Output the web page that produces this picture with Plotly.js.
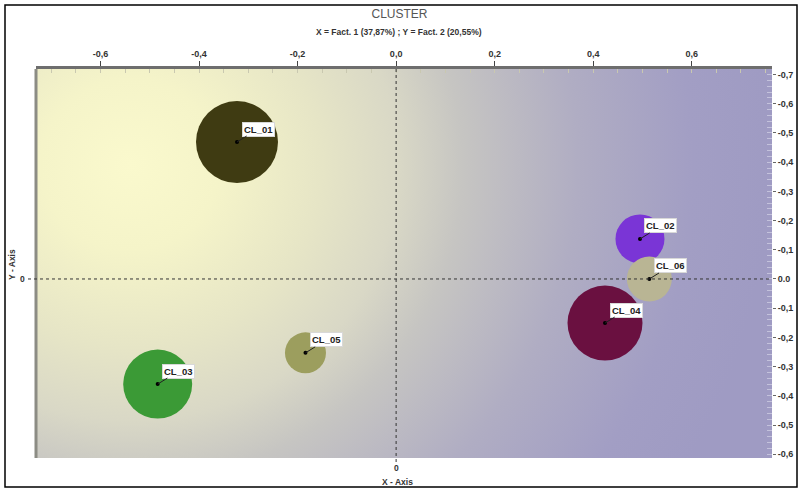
<!DOCTYPE html>
<html>
<head>
<meta charset="utf-8">
<script src="https://cdn.plot.ly/plotly-3.0.1.min.js"></script>
<style>
  html, body { margin: 0; padding: 0; background: #ffffff; }
  #chart { width: 799px; height: 490px; }
</style>
</head>
<body>
<div id="chart"></div>
<script>
// ---- data ----
const clusters = ['CL_01', 'CL_02', 'CL_03', 'CL_04', 'CL_05', 'CL_06'];
const fact1 = [-0.323, 0.495, -0.484, 0.424, -0.184, 0.514];
const fact2 = [0.469, 0.137, -0.360, -0.151, -0.253, 0.000];
const clusterSize = [82, 49, 69, 75, 41, 45];
const clusterColors = ['#3f3b12', '#7a35d6', '#3b9a36', '#6a1040', '#9c9e5e', '#b9b594'];

const xTickVals = [-0.6, -0.4, -0.2, 0.0, 0.2, 0.4, 0.6];
const xTickText = ['-0,6', '-0,4', '-0,2', '0,0', '0,2', '0,4', '0,6'];
const yTickVals = [0.7, 0.6, 0.5, 0.4, 0.3, 0.2, 0.1, 0.0, -0.1, -0.2, -0.3, -0.4, -0.5, -0.6];
const yTickText = ['-0,7', '-0,6', '-0,5', '-0,4', '-0,3', '-0,2', '-0,1', '0.0', '-0,1', '-0,2', '-0,3', '-0,4', '-0,5', '-0,6'];

// ---- gradient background image ----
function gradientImage() {
  const w = 736, h = 389;
  const c = document.createElement('canvas');
  c.width = w; c.height = h;
  const g = c.getContext('2d');
  g.fillStyle = '#9f9bc3';
  g.fillRect(0, 0, w, h);
  g.save();
  g.translate(94, 96);
  g.scale(1, 0.95);
  const grad = g.createRadialGradient(0, 0, 0, 0, 0, 640);
  grad.addColorStop(0.00, '#faf9cd');
  grad.addColorStop(0.14, '#f5f4c9');
  grad.addColorStop(0.30, '#e6e5c6');
  grad.addColorStop(0.42, '#d9d8c6');
  grad.addColorStop(0.52, '#c6c5c2');
  grad.addColorStop(0.70, '#b0adc3');
  grad.addColorStop(0.88, '#a29ec4');
  grad.addColorStop(1.00, '#9f9bc3');
  g.fillStyle = grad;
  g.fillRect(-200, -400, 1200, 1400);
  g.restore();
  return c.toDataURL('image/png');
}

const FONT = '"Liberation Sans Narrow", "Liberation Sans", Arial, sans-serif';

const bubbles = {
  type: 'scatter', mode: 'markers',
  x: fact1, y: fact2, text: clusters,
  marker: {
    size: clusterSize, sizemode: 'diameter', sizeref: 1,
    color: clusterColors, opacity: 1,
    line: { width: 0 }
  },
  hoverinfo: 'text', showlegend: false
};
const centers = {
  type: 'scatter', mode: 'markers',
  x: fact1, y: fact2,
  marker: { size: 4, color: '#000000' },
  hoverinfo: 'skip', showlegend: false
};
const minorHolder = {
  type: 'scatter', mode: 'markers', x: [], y: [],
  xaxis: 'x2', yaxis: 'y2', showlegend: false, hoverinfo: 'skip'
};

const labelAnn = clusters.map((c, i) => ({
  x: fact1[i], y: fact2[i], xref: 'x', yref: 'y',
  text: '<b>' + c + '</b>',
  showarrow: true, arrowhead: 0, arrowwidth: 1, arrowcolor: '#222',
  ax: 21, ay: -13,
  bgcolor: '#ffffff', bordercolor: '#d8d8d8', borderwidth: 1, borderpad: 1,
  font: { family: FONT, size: 9.5, color: '#222' }
}));

const PX = (p) => (p - 36) / 736;     // figure px -> paper x
const PY = (p) => (458 - p) / 389;    // figure px -> paper y

const tickFont = { family: FONT, size: 9, color: '#333', weight: 'bold' };

const layout = {
  width: 799, height: 490,
  margin: { l: 36, r: 27, t: 69, b: 32, pad: 0 },
  paper_bgcolor: '#ffffff',
  plot_bgcolor: 'rgba(0,0,0,0)',
  showlegend: false,
  title: {
    text: 'CLUSTER',
    font: { family: '"Liberation Sans", Arial, sans-serif', size: 12, color: '#555555' },
    x: 0.5, xanchor: 'center', y: 0.972, yanchor: 'middle'
  },
  xaxis: {
    range: [-0.731, 0.763], side: 'top',
    tickmode: 'array', tickvals: xTickVals, ticktext: xTickText,
    ticks: 'outside', ticklen: 5, tickwidth: 1, tickcolor: '#444',
    tickfont: tickFont,
    showline: true, linecolor: '#6e6e6e', linewidth: 3,
    showgrid: false, zeroline: false, fixedrange: true
  },
  yaxis: {
    range: [-0.613, 0.719], side: 'right',
    tickmode: 'array', tickvals: yTickVals, ticktext: yTickText,
    ticks: 'outside', ticklen: 3, tickwidth: 1, tickcolor: '#666',
    tickfont: tickFont,
    showline: false, showgrid: false, zeroline: false, fixedrange: true
  },
  xaxis2: {
    overlaying: 'x', side: 'top', matches: 'x', anchor: 'y2',
    range: [-0.731, 0.763], tickmode: 'linear', tick0: 0, dtick: 0.05,
    ticks: 'inside', ticklen: 4, tickcolor: '#c9c8b0', showticklabels: false,
    showgrid: false, zeroline: false, showline: false
  },
  yaxis2: {
    overlaying: 'y', side: 'right', anchor: 'x2',
    range: [-0.613, 0.719], tickmode: 'linear', tick0: 0, dtick: 0.02,
    ticks: 'inside', ticklen: 5, tickcolor: '#c4c2dc', showticklabels: false,
    showgrid: false, zeroline: false, showline: false
  },
  images: [{
    source: gradientImage(), xref: 'paper', yref: 'paper',
    x: 0, y: 1, sizex: 1, sizey: 1, sizing: 'stretch',
    xanchor: 'left', yanchor: 'top', layer: 'below'
  }],
  shapes: [
    // outer frame
    { type: 'rect', xref: 'paper', yref: 'paper', x0: PX(5), x1: PX(797), y0: PY(487), y1: PY(5),
      line: { color: '#000', width: 1.5 }, fillcolor: 'rgba(0,0,0,0)' },
    // left border of plot
    { type: 'line', xref: 'paper', yref: 'paper', x0: PX(36), x1: PX(36), y0: 0, y1: 1,
      line: { color: '#8c8c84', width: 3 } },
    // zero lines
    { type: 'line', xref: 'paper', yref: 'y', x0: PX(28), x1: 1, y0: 0, y1: 0,
      line: { color: '#333', width: 1, dash: '3px,3px' } },
    { type: 'line', xref: 'x', yref: 'paper', x0: 0, x1: 0, y0: PY(462), y1: 1,
      line: { color: '#333', width: 1, dash: '3px,3px' } }
  ],
  annotations: labelAnn.concat([
    { text: '<b>X = Fact. 1 (37,87%) ; Y = Fact. 2 (20,55%)</b>', xref: 'paper', yref: 'paper',
      x: PX(399), y: PY(32), showarrow: false, xanchor: 'center', yanchor: 'middle',
      font: { family: FONT, size: 8.5, color: '#333' } },
    { text: '<b>X - Axis</b>', xref: 'paper', yref: 'paper', x: PX(397), y: PY(482),
      showarrow: false, xanchor: 'center', yanchor: 'middle',
      font: { family: FONT, size: 8.5, color: '#333' } },
    { text: '<b>Y - Axis</b>', xref: 'paper', yref: 'paper', x: PX(12), y: PY(265),
      showarrow: false, xanchor: 'center', yanchor: 'middle', textangle: -90,
      font: { family: FONT, size: 8.5, color: '#333' } },
    { text: '<b>0</b>', xref: 'paper', yref: 'y', x: PX(22), y: 0,
      showarrow: false, xanchor: 'center', yanchor: 'middle',
      font: { family: FONT, size: 8.5, color: '#333' } },
    { text: '<b>0</b>', xref: 'x', yref: 'paper', x: 0, y: PY(468),
      showarrow: false, xanchor: 'center', yanchor: 'middle',
      font: { family: FONT, size: 8.5, color: '#333' } }
  ])
};

Plotly.newPlot('chart', [bubbles, centers, minorHolder], layout, { staticPlot: true, displayModeBar: false });
</script>
</body>
</html>
